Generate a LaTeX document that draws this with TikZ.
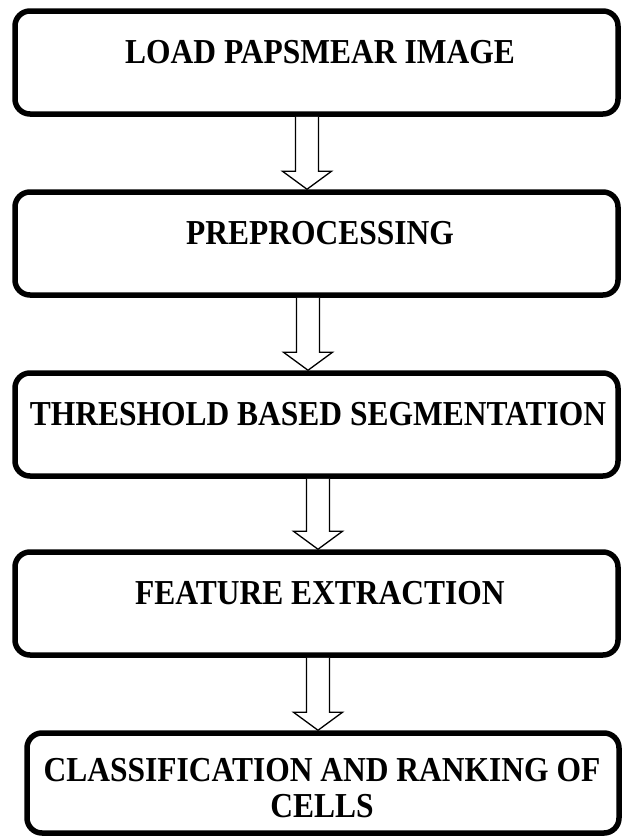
\documentclass[tikz,border=0pt]{standalone}
\usepackage{fontspec}
\setmainfont{Liberation Serif}[FakeStretch=0.9]
\usetikzlibrary{calc}

\tikzset{
  stagebox/.style={draw, line width=5.5pt, rounded corners=15pt,
    minimum width=603pt, minimum height=103pt},
  stagetext/.style={font=\fontsize{35}{36}\selectfont\bfseries, align=center, inner sep=0pt},
  hollow/.style={draw, line width=1.3pt, fill=white, line join=miter}
}

\begin{document}
\begin{tikzpicture}[x=1pt, y=-1pt]
\useasboundingbox (0,0) rectangle (623,838);

\foreach \name/\y in {load/62.5, pre/243.5, thresh/424.5, feat/603.5}
{
    \node[stagebox] (\name) at (316.5,\y) {};
}
\node[stagebox, minimum width=592pt, minimum height=100pt] (classify) at (323,783) {};

\node[stagetext] (loadtext) at (320,52) {LOAD PAPSMEAR IMAGE};
\node[stagetext] (pretext) at (320,233) {PREPROCESSING};
\node[stagetext] (threshtext) at (318,414) {THRESHOLD BASED SEGMENTATION};
\node[stagetext] (feattext) at (320,593) {FEATURE EXTRACTION};
\node[stagetext] (classifytext) at (322,788) {CLASSIFICATION AND RANKING OF\\CELLS};

% hollow block arrows between the stages
\foreach \a/\b/\x in {load/pre/307, pre/thresh/308, thresh/feat/318, feat/classify/318}
{
    \coordinate (top) at (\a.south -| \x,0);
    \coordinate (tip) at (\b.north -| \x,0);
    \draw[hollow] ($(top)+(-11.5,0)$) -- ($(tip)+(-11.5,-18)$) -- ($(tip)+(-24.5,-18)$)
        -- (tip) -- ($(tip)+(24.5,-18)$) -- ($(tip)+(11.5,-18)$) -- ($(top)+(11.5,0)$);
}

\end{tikzpicture}
\end{document}
